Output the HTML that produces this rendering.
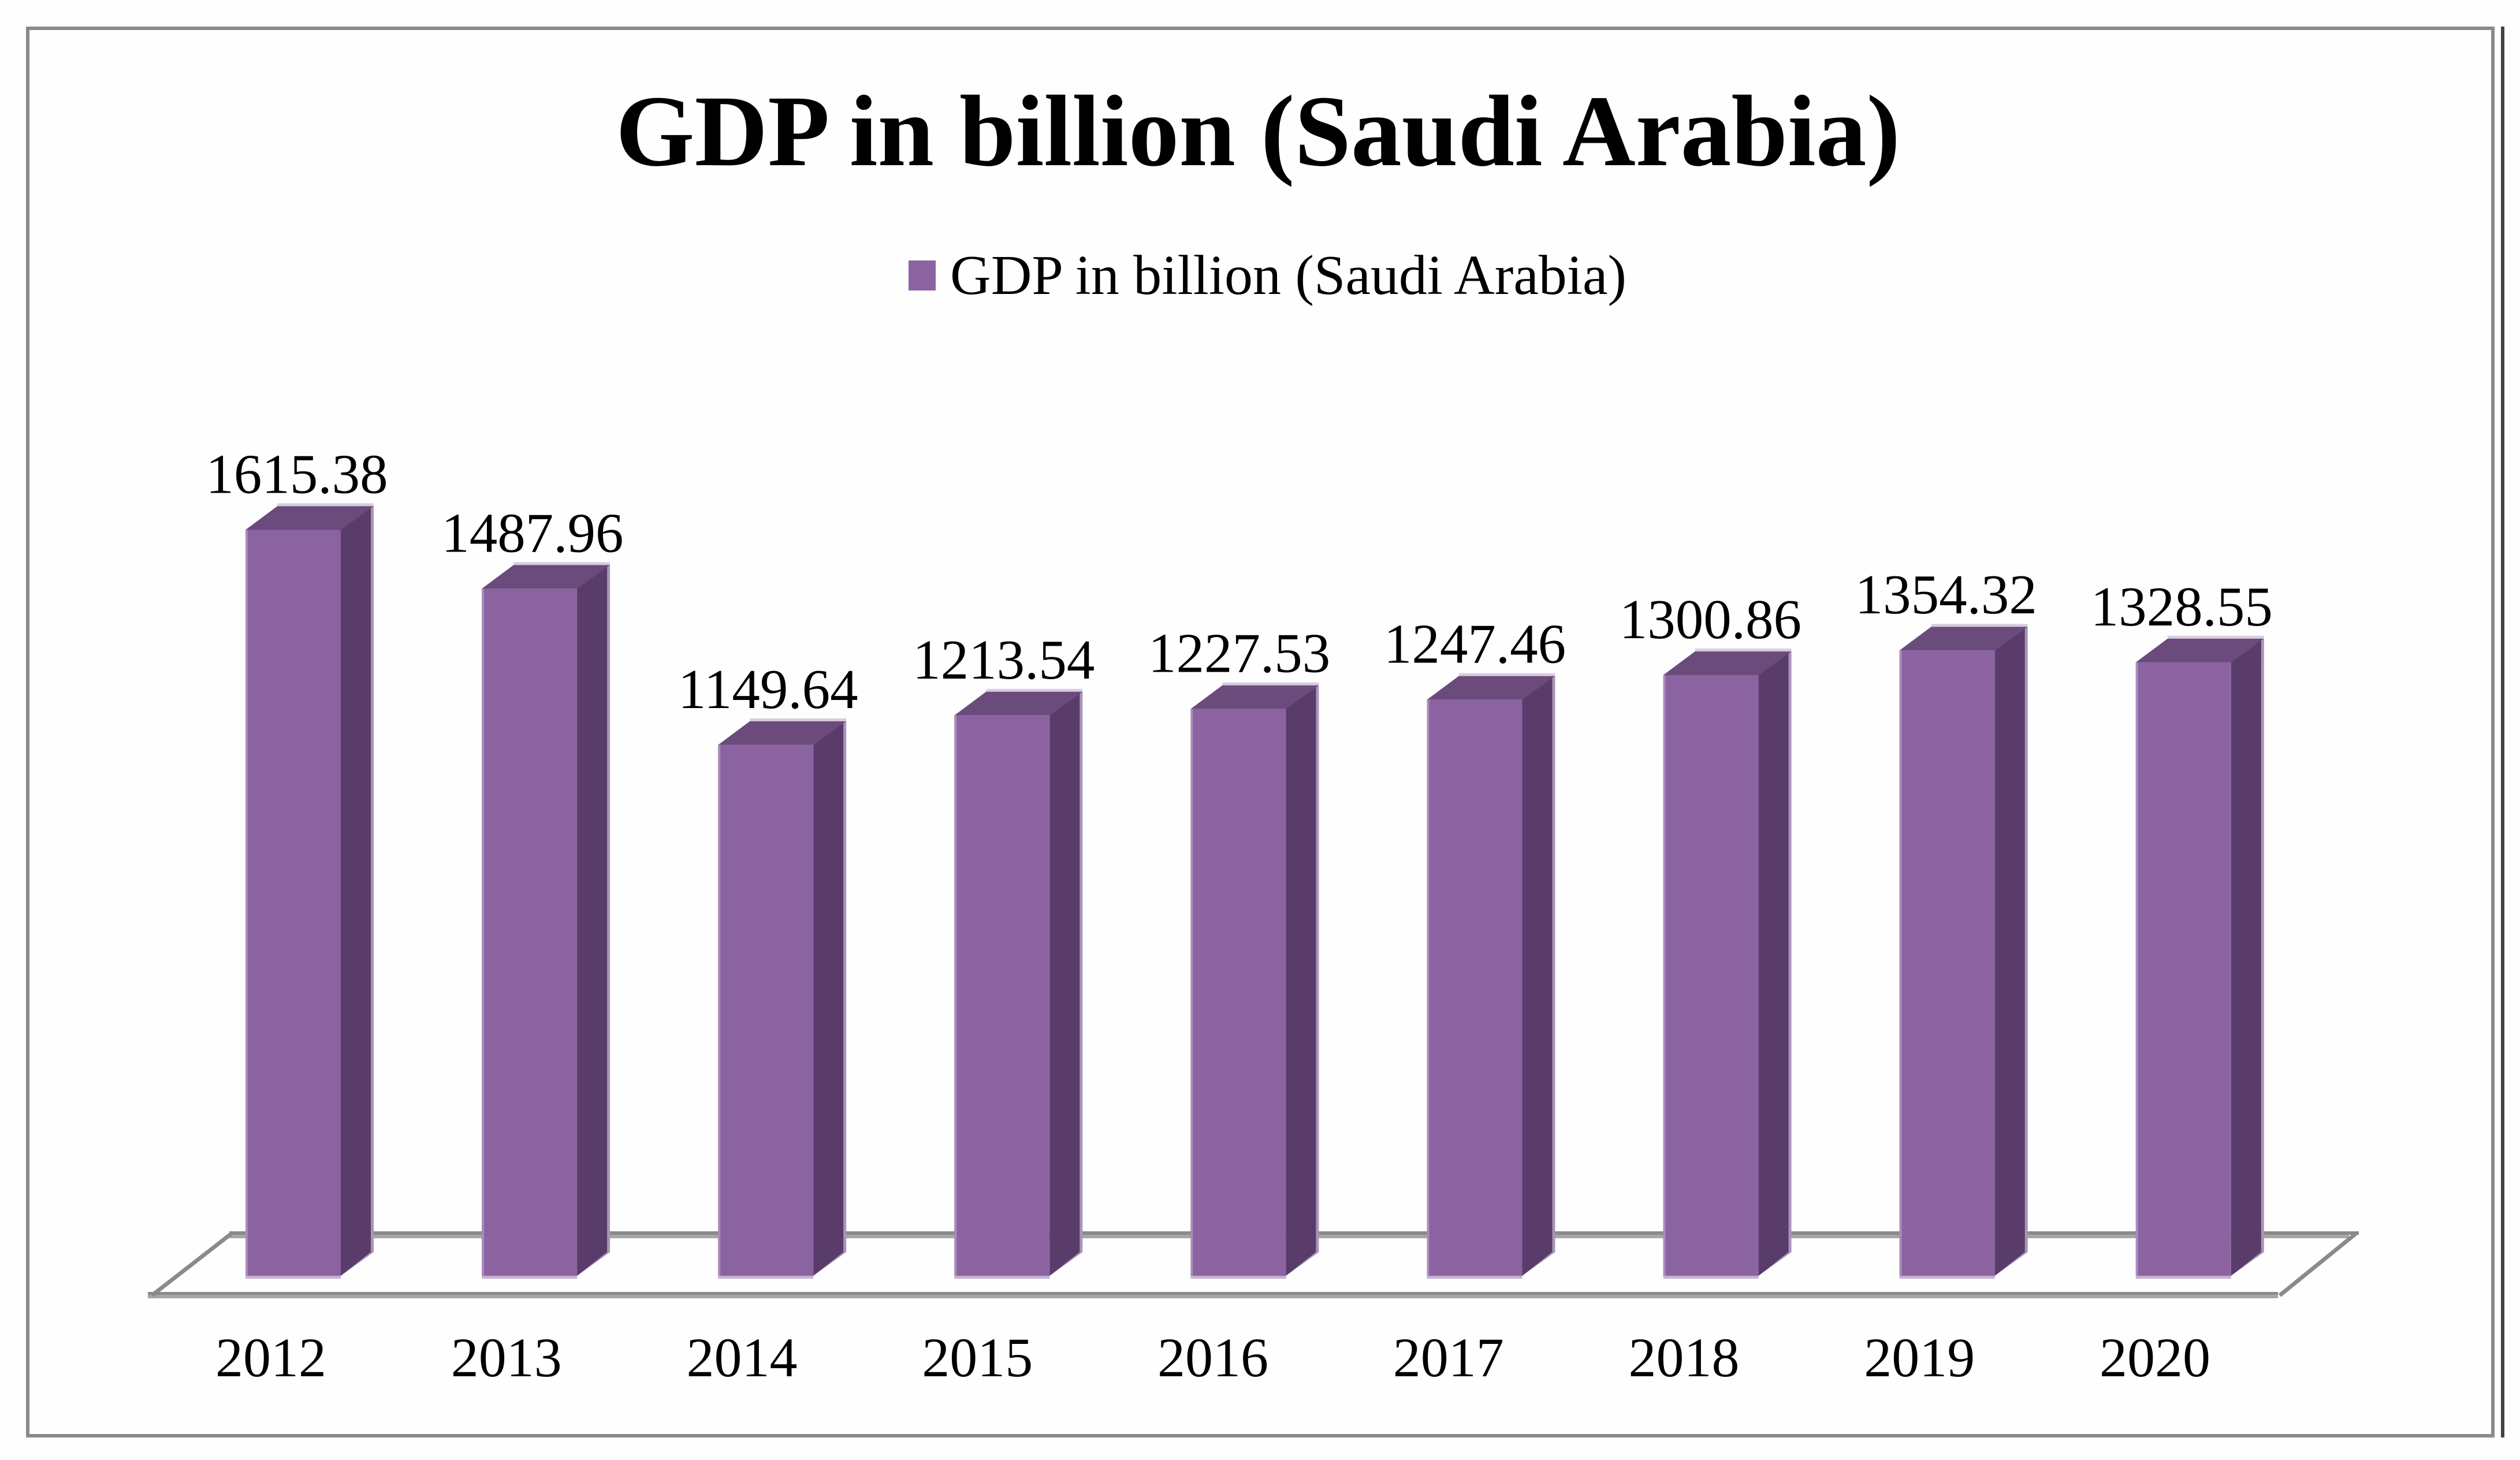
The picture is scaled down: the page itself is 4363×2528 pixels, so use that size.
<!DOCTYPE html>
<html lang="en">
<head>
<meta charset="utf-8">
<title>GDP in billion (Saudi Arabia)</title>
<style>
html,body{margin:0;padding:0;background:#fff;}
svg{display:block;}
text{font-family:"Liberation Serif",serif;fill:#000;}
</style>
</head>
<body>
<svg id="chart" xmlns="http://www.w3.org/2000/svg" width="4363" height="2528" viewBox="0 0 4363 2528">
  <rect x="0" y="0" width="4363" height="2528" fill="#fefefe"/>
  <rect x="48" y="49" width="4268" height="2437" fill="#fefefe" stroke="#8a8a8a" stroke-width="6"/>
  <rect x="4330" y="46" width="6" height="2443" fill="#444444"/>
  <text x="1066" y="286" font-size="176" font-weight="bold" textLength="2224" lengthAdjust="spacingAndGlyphs">GDP in billion (Saudi Arabia)</text>
  <rect x="1573" y="451" width="47" height="52" fill="#8b63a1"/>
  <text x="1645" y="509" font-size="97" textLength="1171" lengthAdjust="spacingAndGlyphs">GDP in billion (Saudi Arabia)</text>
  <g id="floor">
    <rect x="397" y="2132" width="3687" height="6" fill="#8a8a8a"/>
    <rect x="397" y="2138" width="3670" height="6" fill="#a6a6a6"/>
    <rect x="256" y="2237" width="3688" height="5" fill="#8a8a8a"/>
    <rect x="256" y="2242" width="3688" height="6" fill="#a6a6a6"/>
    <line x1="263" y1="2243" x2="402" y2="2135" stroke="#8a8a8a" stroke-width="7"/>
    <line x1="3947" y1="2243" x2="4080" y2="2135" stroke="#8a8a8a" stroke-width="7"/>
  </g>
  <g id="bars"></g>
  <g id="value-labels"></g>
  <g id="category-labels"></g>
</svg>
<script>
const categories = ["2012", "2013", "2014", "2015", "2016", "2017", "2018", "2019", "2020"];
const gdpValues = [1615.38, 1487.96, 1149.64, 1213.54, 1227.53, 1247.46, 1300.86, 1354.32, 1328.55];
const valueLabels = ["1615.38", "1487.96", "1149.64", "1213.54", "1227.53", "1247.46", "1300.86", "1354.32", "1328.55"];

const NS = "http://www.w3.org/2000/svg";
const BASE_Y = 2209, PX_PER_UNIT = 0.7995;
const BAR_W = 165, DEPTH_X = 55, DEPTH_Y = 41;

function yScale(v) { return BASE_Y - v * PX_PER_UNIT; }
function barX(i) { return 425 + i * 409.1; }
function valueLabelX(i) { return 514 + i * 407.9; }
function categoryX(i) { return 469 + i * 407.75; }

function make(tag, attrs) {
  const el = document.createElementNS(NS, tag);
  for (const k in attrs) el.setAttribute(k, attrs[k]);
  return el;
}
function pts(list) { return list.map(p => p.join(",")).join(" "); }

const barsG = document.getElementById("bars");
const valuesG = document.getElementById("value-labels");
const catsG = document.getElementById("category-labels");

gdpValues.forEach(function (v, i) {
  const x = barX(i), top = yScale(v), r = x + BAR_W;
  const g = make("g", {});
  
  

  const topEdge = make("rect", { x: x + DEPTH_X, y: top - DEPTH_Y - 5, width: BAR_W + 2, height: 5, fill: "#d8cde0" });
  
  
  g.appendChild(topEdge);

  const sideEdge = make("polygon", { fill: "#a995b8", points: pts([[r, top], [r + DEPTH_X + 2, top - DEPTH_Y], [r + DEPTH_X + 2, BASE_Y - DEPTH_Y], [r, BASE_Y]]) });
  
  
  g.appendChild(sideEdge);

  const side = make("polygon", { fill: "#593c6a", points: pts([[r, top], [r + DEPTH_X - 3, top - DEPTH_Y], [r + DEPTH_X - 3, BASE_Y - DEPTH_Y], [r, BASE_Y]]) });
  
  
  g.appendChild(side);

  const cap = make("polygon", { fill: "#6b4a7c", points: pts([[x, top], [x + DEPTH_X, top - DEPTH_Y], [r + DEPTH_X + 2, top - DEPTH_Y], [r, top]]) });
  
  
  g.appendChild(cap);

  const bottom = make("rect", { x: x, y: BASE_Y, width: BAR_W, height: 5, fill: "#c6b0d4" });
  
  
  g.appendChild(bottom);

  const front = make("rect", { x: x, y: top, width: BAR_W, height: BASE_Y - top, fill: "#8b63a1" });
  
  
  g.appendChild(front);

  const leftEdge = make("rect", { x: x, y: top, width: 4, height: BASE_Y - top, fill: "#a98cba" });
  
  
  g.appendChild(leftEdge);

  barsG.appendChild(g);

  const label = make("text", { x: valueLabelX(i), y: top - 64, "font-size": 97, "text-anchor": "middle" });
  
  
  label.textContent = valueLabels[i];
  valuesG.appendChild(label);

  const cat = make("text", { x: categoryX(i), y: 2383, "font-size": 96, "text-anchor": "middle" });
  
  
  cat.textContent = categories[i];
  catsG.appendChild(cat);
});
</script>
</body>
</html>
